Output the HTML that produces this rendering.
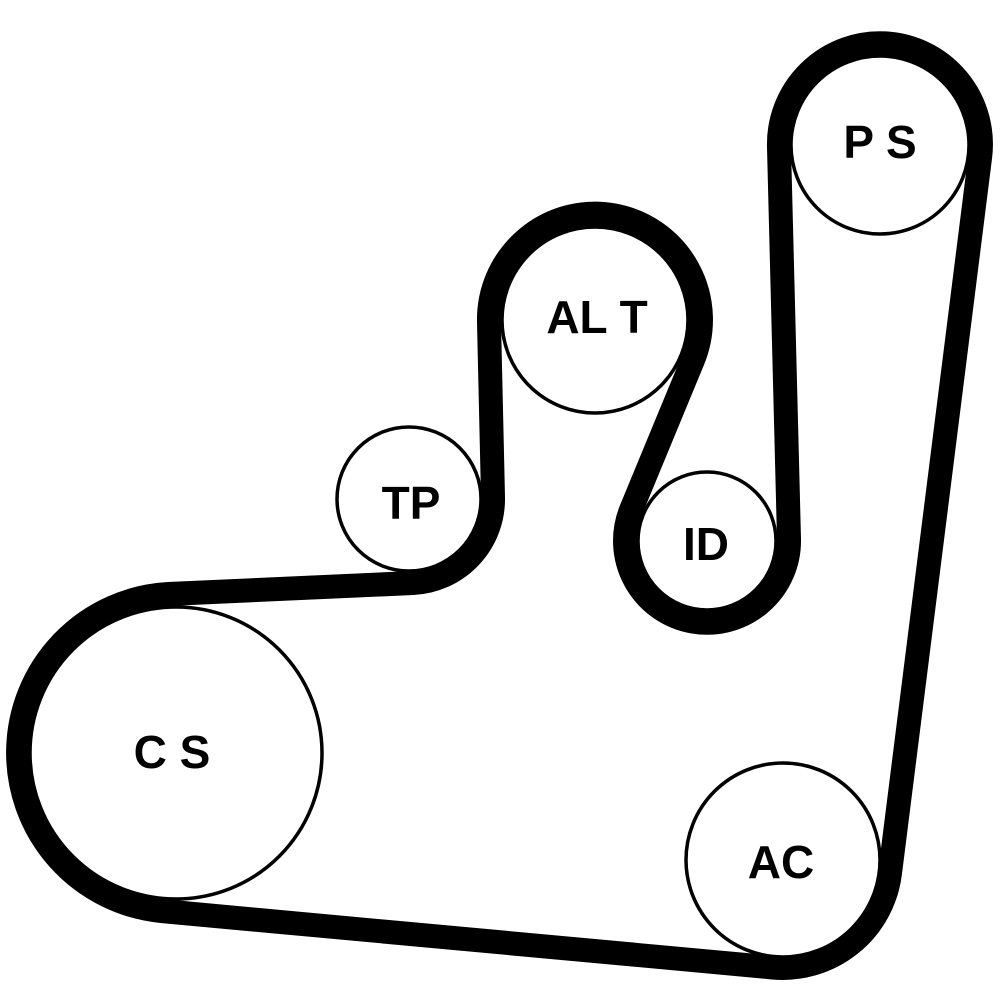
<!DOCTYPE html>
<html><head><meta charset="utf-8"><style>
html,body{margin:0;padding:0;background:#fff;}
svg{display:block;}
text{font-family:"Liberation Sans",Arial,sans-serif;font-size:46px;font-weight:bold;fill:#000;text-anchor:middle;dominant-baseline:central;}
</style></head><body>
<svg width="1000" height="1000" viewBox="0 0 1000 1000">
<g fill="none" stroke="#000" stroke-width="3.5">
<circle cx="880" cy="145" r="89"/>
<circle cx="595" cy="320" r="93"/>
<circle cx="409" cy="499" r="72"/>
<circle cx="707" cy="541" r="69"/>
<circle cx="176" cy="753" r="146"/>
<circle cx="783" cy="860" r="97"/>
</g>
<path fill="none" stroke="#000" stroke-width="24" stroke-linejoin="round"
d="M168.5,594 L413,583 A84,84 0 0 0 493,497 L489,322.4 A106,106 0 1 1 693,360 L631,510 A82,82 0 1 0 789,539 L779,147.6 A101,101 0 1 1 980,158 L890,873 A108,108 0 0 1 773,967.5 L161.5,911 A159,159 0 0 1 168.5,594 Z"/>
<text x="880" y="142">P S</text>
<text x="597" y="317">AL T</text>
<text x="411" y="503">TP</text>
<text x="706" y="544">ID</text>
<text x="172" y="752">C S</text>
<text x="781" y="862">AC</text>
</svg>
</body></html>
